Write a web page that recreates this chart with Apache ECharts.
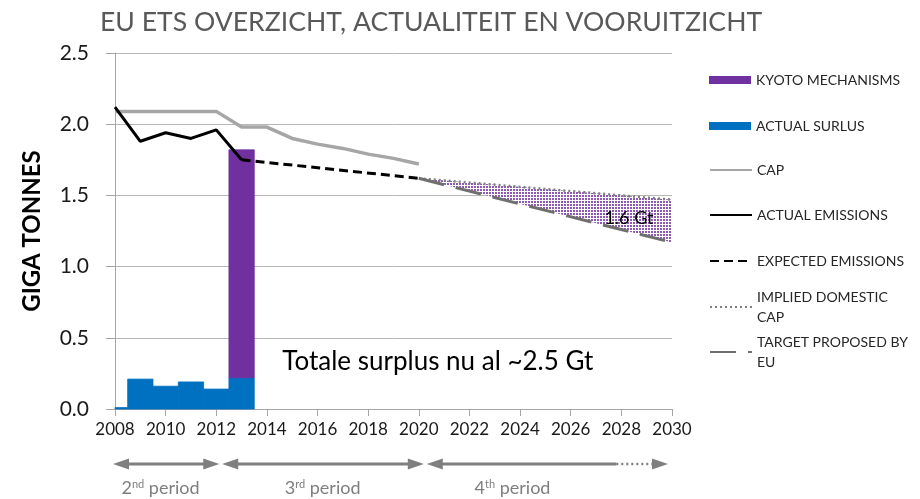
<!DOCTYPE html>
<html>
<head>
<meta charset="utf-8">
<script src="https://cdn.jsdelivr.net/npm/echarts@6/dist/echarts.min.js"></script>
<style>
html, body { margin: 0; padding: 0; background: #fff; }
#chart { width: 920px; height: 499px; }
</style>
</head>
<body>
<div id="chart"></div>
<script>
//柱状数据（2008-2013）
var barYears = [2008, 2009, 2010, 2011, 2012, 2013];
var surplus = [0.01, 0.21, 0.16, 0.19, 0.14, 0.22];
var kyotoYears = [2013];
var kyoto = [1.60];
//cap
var capYears = [2008, 2009, 2010, 2011, 2012, 2013, 2014, 2015, 2016, 2017, 2018, 2019, 2020];
var cap = [2.09, 2.09, 2.09, 2.09, 2.09, 1.98, 1.98, 1.90, 1.86, 1.83, 1.79, 1.76, 1.72];
//实际排放
var emissions = [2.12, 1.88, 1.94, 1.90, 1.96, 1.75];
//预期排放
var expYears = [2013, 2020];
var expected = [1.75, 1.62];
//第四阶段
var futureYears = [2020, 2030];
var impliedCap = [1.62, 1.47];
var target = [1.62, 1.17];
//阶段箭头
var periodFrom = [2008, 2012, 2020];
var periodTo = [2012, 2020, 2030];
var periodLabelAt = [2009.8, 2016.2, 2023.7];
var periodNum = ['2', '3', '4'];
var periodSup = ['nd', 'rd', 'th'];
var yTicks = [0, 0.5, 1.0, 1.5, 2.0, 2.5];

var legendNames = ['KYOTO MECHANISMS', 'ACTUAL SURLUS', 'CAP', 'ACTUAL EMISSIONS', 'EXPECTED EMISSIONS', 'IMPLIED DOMESTIC CAP', 'TARGET PROPOSED BY EU'];
var legendText = {
	'IMPLIED DOMESTIC CAP': 'IMPLIED DOMESTIC\nCAP',
	'TARGET PROPOSED BY EU': 'TARGET PROPOSED BY\nEU'
};

var FONT = 'Lato';
var grayAxis = '#a6a6a6';

function pairs(xs, ys) {
	var out = [];
	for (var i = 0; i < xs.length; i++) {
		out.push([xs[i], ys[i]]);
	}
	return out;
}

//surplus柱: [年, 底, 顶]
var surplusBars = [];
for (var i = 0; i < barYears.length; i++) {
	surplusBars.push([barYears[i], 0, surplus[i]]);
}
//kyoto柱叠在surplus上
var kyotoBars = [];
for (var i = 0; i < kyotoYears.length; i++) {
	var base = surplus[barYears.indexOf(kyotoYears[i])];
	kyotoBars.push([kyotoYears[i], base, base + kyoto[i]]);
}
//两条线之间的区域
var gapRows = [];
for (var i = 0; i < futureYears.length; i++) {
	gapRows.push([futureYears[i], target[i], impliedCap[i]]);
}

//点状填充
function dotPattern() {
	var c = document.createElement('canvas');
	c.width = 3;
	c.height = 3;
	var ctx = c.getContext('2d');
	ctx.fillStyle = '#ffffff';
	ctx.fillRect(0, 0, 3, 3);
	ctx.fillStyle = 'rgba(112,48,160,0.8)';
	ctx.fillRect(0, 0, 2, 2);
	return { image: c, repeat: 'repeat' };
}

function renderBar(params, api) {
	var x = api.value(0);
	var p0 = api.coord([x - 0.5, api.value(1)]);
	var p1 = api.coord([x + 0.5, api.value(2)]);
	var cs = params.coordSys;
	var rect = echarts.graphic.clipRectByRect(
		{ x: p0[0], y: p1[1], width: p1[0] - p0[0], height: p0[1] - p1[1] },
		{ x: cs.x, y: cs.y, width: cs.width, height: cs.height }
	);
	var color = api.visual('color');
	return rect && { type: 'rect', shape: rect, style: { fill: color, stroke: color, lineWidth: 0.8 } };
}

function renderGap(params, api) {
	var i = params.dataIndex;
	if (i >= gapRows.length - 1) {
		return null;
	}
	var a = gapRows[i], b = gapRows[i + 1];
	return {
		type: 'polygon',
		shape: { points: [api.coord([a[0], a[2]]), api.coord([b[0], b[2]]), api.coord([b[0], b[1]]), api.coord([a[0], a[1]])] },
		style: { fill: dotPattern() }
	};
}

var legendCenters = [80, 126, 170, 215, 261, 307, 352];
var legends = [];
for (var i = 0; i < legendNames.length; i++) {
	var two = !!legendText[legendNames[i]];
	var isBar = i < 2;
	legends.push({
		data: [legendNames[i]],
		left: 709,
		top: legendCenters[i] - (two ? 30 : 10),
		padding: 0,
		itemWidth: 42,
		itemHeight: 8,
		icon: isBar ? 'rect' : undefined,
		selectedMode: false,
		itemStyle: isBar ? {} : { opacity: 0 },
		formatter: function (name) {
			return legendText[name] || name;
		},
		textStyle: {
			fontFamily: FONT,
			fontSize: 14,
			color: '#262626',
			lineHeight: 20,
			padding: two ? [20, 0, 0, 0] : 0
		}
	});
}

var chart = echarts.init(document.getElementById('chart'));

var option = {
	animation: false,
	backgroundColor: '#ffffff',
	title: {
		text: 'EU ETS OVERZICHT, ACTUALITEIT EN VOORUITZICHT',
		left: 95,
		top: 4,
		textStyle: {
			fontFamily: FONT,
			fontSize: 26.6,
			fontWeight: 'normal',
			color: '#595959'
		}
	},
	legend: legends,
	grid: {
		left: 115,
		right: 248,
		top: 53,
		bottom: 90,
		containLabel: false
	},
	xAxis: {
		type: 'value',
		min: 2008,
		max: 2030,
		interval: 2,
		axisLine: { lineStyle: { color: grayAxis, width: 1 } },
		axisTick: { show: true, length: 7, lineStyle: { color: grayAxis } },
		splitLine: { show: false },
		axisLabel: {
			fontFamily: FONT,
			fontSize: 17,
			color: '#1a1a1a',
			margin: 12,
			formatter: function (v) { return String(v); }
		}
	},
	yAxis: {
		type: 'value',
		min: yTicks[0],
		max: yTicks[yTicks.length - 1],
		interval: 0.5,
		name: 'GIGA TONNES',
		nameLocation: 'middle',
		nameRotate: 90,
		nameGap: 71,
		nameTextStyle: {
			fontFamily: FONT,
			fontSize: 24,
			fontWeight: 'bold',
			color: '#000000'
		},
		axisLine: { show: true, lineStyle: { color: grayAxis, width: 1 } },
		axisTick: { show: true, length: 9, lineStyle: { color: grayAxis } },
		splitLine: { show: true, lineStyle: { color: '#b7b7b7', width: 1 } },
		axisLabel: {
			fontFamily: FONT,
			fontSize: 21,
			color: '#1a1a1a',
			margin: 26,
			formatter: function (v) { return v.toFixed(1); }
		}
	},
	series: [
		{
			name: 'ACTUAL SURLUS',
			type: 'custom',
			renderItem: renderBar,
			encode: { x: 0, y: [1, 2] },
			data: surplusBars,
			itemStyle: { color: '#0070c0' },
			z: 2
		},
		{
			name: 'KYOTO MECHANISMS',
			type: 'custom',
			renderItem: renderBar,
			encode: { x: 0, y: [1, 2] },
			data: kyotoBars,
			itemStyle: { color: '#7030a0' },
			z: 2
		},
		{
			name: 'gapfill',
			type: 'custom',
			renderItem: renderGap,
			encode: { x: 0, y: [1, 2] },
			data: gapRows,
			itemStyle: { color: '#7030a0' },
			z: 2
		},
		{
			name: 'CAP',
			type: 'line',
			symbol: 'none',
			data: pairs(capYears, cap),
			lineStyle: { color: '#a6a6a6', width: 3.5 },
			itemStyle: { color: '#a6a6a6' }
		},
		{
			name: 'TARGET PROPOSED BY EU',
			type: 'line',
			symbol: 'none',
			data: pairs(futureYears, target),
			lineStyle: { color: '#6f6f6f', width: 3, type: [26, 12] },
			itemStyle: { color: '#6f6f6f' },
			z: 4
		},
		{
			name: 'IMPLIED DOMESTIC CAP',
			type: 'line',
			symbol: 'none',
			data: pairs(futureYears, impliedCap),
			lineStyle: { color: '#7f7f7f', width: 2.5, type: [2, 3] },
			itemStyle: { color: '#7f7f7f' },
			z: 3
		},
		{
			name: 'ACTUAL EMISSIONS',
			type: 'line',
			symbol: 'none',
			data: pairs(barYears, emissions),
			lineStyle: { color: '#000000', width: 3 },
			itemStyle: { color: '#000000' },
			z: 5
		},
		{
			name: 'EXPECTED EMISSIONS',
			type: 'line',
			symbol: 'none',
			data: pairs(expYears, expected),
			lineStyle: { color: '#000000', width: 3, type: [9, 5] },
			itemStyle: { color: '#000000' },
			z: 5
		}
	]
};

chart.setOption(option);

//箭头和注释
function px(x, y) {
	return chart.convertToPixel({ xAxisIndex: 0, yAxisIndex: 0 }, [x, y]);
}

function arrowHead(tipX, y, dir) {
	return {
		type: 'polygon',
		shape: { points: [[tipX, y], [tipX - dir * 16, y - 5.5], [tipX - dir * 16, y + 5.5]] },
		style: { fill: '#7f7f7f' },
		silent: true
	};
}

function buildGraphics() {
	var g = [];
	var y = 464;
	var startOff = [-2, 6, 8];
	var endOff = [3, 5, -4];
	for (var i = 0; i < periodFrom.length; i++) {
		var x1 = px(periodFrom[i], 0)[0] + startOff[i];
		var x2 = px(periodTo[i], 0)[0] + endOff[i];
		g.push(arrowHead(x1, y, -1));
		g.push(arrowHead(x2, y, 1));
		if (i == periodFrom.length - 1) {
			var xd = px(2027.8, 0)[0];
			g.push({ type: 'line', shape: { x1: x1 + 14, y1: y, x2: xd, y2: y }, style: { stroke: '#7f7f7f', lineWidth: 3 }, silent: true });
			g.push({ type: 'line', shape: { x1: xd, y1: y, x2: x2 - 16, y2: y }, style: { stroke: '#7f7f7f', lineWidth: 2.5, lineDash: [2, 3] }, silent: true });
		} else {
			g.push({ type: 'line', shape: { x1: x1 + 14, y1: y, x2: x2 - 14, y2: y }, style: { stroke: '#7f7f7f', lineWidth: 3 }, silent: true });
		}
		g.push({
			type: 'text',
			x: px(periodLabelAt[i], 0)[0],
			y: 488,
			style: {
				text: '{n|' + periodNum[i] + '}{s|' + periodSup[i] + '}{n| period}',
				align: 'center',
				verticalAlign: 'middle',
				rich: {
					n: { fontFamily: FONT, fontSize: 18, fill: '#7f7f7f' },
					s: { fontFamily: FONT, fontSize: 11, fill: '#7f7f7f', verticalAlign: 'top', padding: [0, 0, 8, 0] }
				}
			},
			silent: true
		});
	}
	var p1 = px(2028.3, 1.34);
	g.push({
		type: 'text', x: p1[0], y: p1[1], silent: true, z: 10,
		style: { text: '1.6 Gt', align: 'center', verticalAlign: 'middle', fontFamily: FONT, fontSize: 18, fill: '#000000' }
	});
	var p2 = px(2020.75, 0.33);
	g.push({
		type: 'text', x: p2[0], y: p2[1], silent: true,
		style: { text: 'Totale surplus nu al ~2.5 Gt', align: 'center', verticalAlign: 'middle', fontFamily: FONT, fontSize: 26, fill: '#000000' }
	});
	return g;
}

chart.setOption({ graphic: buildGraphics() });
</script>
</body>
</html>
